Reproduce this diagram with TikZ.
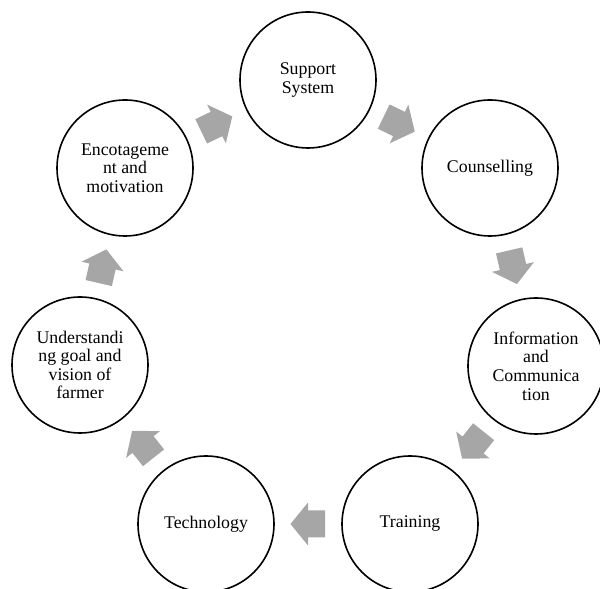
\documentclass[tikz,border=0pt]{standalone}
\usepackage{fontspec}
\setmainfont{Liberation Serif}
\usetikzlibrary{calc}
\definecolor{arrowgray}{RGB}{166,166,166}
\tikzset{
  stage/.style={circle, draw=black, line width=1.6pt, minimum size=136pt, inner sep=0pt,
    align=center, font=\fontsize{17.8}{18.6}\selectfont},
  blockarrow/.pic={\fill[arrowgray] (-17,-13.5) -- (0,-13.5) -- (0,-21.5) -- (17.5,0) -- (0,21.5) -- (0,13.5) -- (-17,13.5) -- cycle;}
}
\begin{document}
\begin{tikzpicture}[x=1pt,y=1pt]
\useasboundingbox (0,0) rectangle (600,589);
\node[stage] (S)  at (308,509) {Support\\System};
\node[stage] (C)  at (490,421) {Counselling};
\node[stage] (I)  at (536,223) {Information\\and\\Communica\\tion};
\node[stage] (Tr) at (410,65)  {Training};
\node[stage] (Te) at (206,65)  {Technology};
\node[stage] (U)  at (80,224)  {Understandi\\ng goal and\\vision of\\farmer};
\node[stage] (E)  at (125,421) {Encotageme\\nt and\\motivation};
\foreach \a/\b in {E/S, S/C, C/I, I/Tr, Tr/Te, Te/U, U/E}{
  \path let \p1=(\a.center), \p2=(\b.center), \n1={atan2(\y2-\y1,\x2-\x1)} in
    ($(\a.center)!0.5!(\b.center)$) pic[rotate=\n1] {blockarrow};
}
\end{tikzpicture}
\end{document}
